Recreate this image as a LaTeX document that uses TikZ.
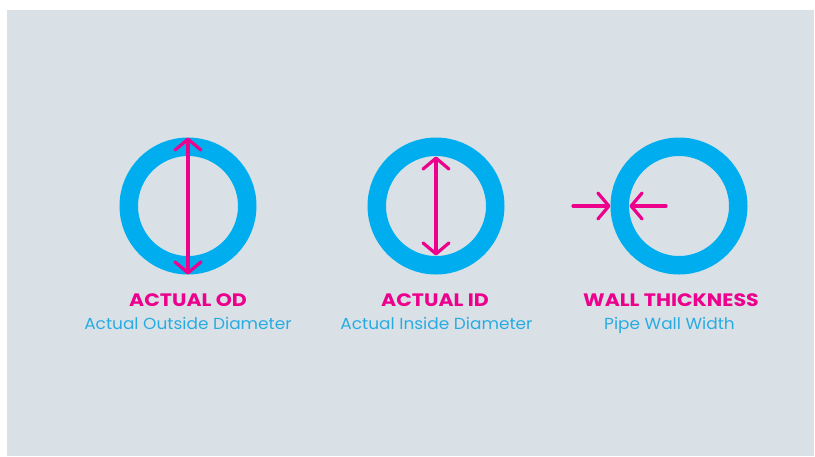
\documentclass[tikz,border=0pt]{standalone}
\usepackage{fontspec}
\setmainfont{Poppins}
\newfontfamily\titlefont[FakeStretch=1.14]{Poppins}
\newfontfamily\subfont[FakeStretch=1.06]{Poppins}
\usetikzlibrary{arrows.meta,calc}
\definecolor{bg}{HTML}{D9E1E7}
\definecolor{pipe}{HTML}{00AEEF}
\definecolor{mag}{HTML}{EC008C}
\definecolor{sub}{HTML}{29ABE2}
\begin{document}
\begin{tikzpicture}[x=1pt,y=-1pt,
  ring/.style={circle,draw=pipe,line width=18.5pt,minimum size=118.5pt,inner sep=0pt},
  dim/.style={draw=mag,line width=3.2pt,line cap=round,line join=round},
  tip/.style={-{Straight Barb[length=11pt,width=26pt,round]}},
  tips/.style={{Straight Barb[length=11pt,width=26pt,round]}-{Straight Barb[length=11pt,width=26pt,round]}},
  title/.style={anchor=base,text=mag,font=\titlefont\fontsize{18}{21}\selectfont\bfseries,inner sep=0pt},
  sub/.style={anchor=base,text=sub,font=\subfont\fontsize{16}{19}\selectfont,inner sep=0pt}]
\useasboundingbox (0,0) rectangle (815,456);
\fill[white] (0,0) rectangle (815,456);
\fill[bg] (7,10) rectangle (814,456);
% pipes
\node[ring] (c1) at (188,206) {};
\node[ring] (c2) at (436,206) {};
\node[ring] (c3) at (679,206) {};
% inner points
\coordinate (c2t) at ($(c2.center)+(0,-49.5)$);
\coordinate (c2b) at ($(c2.center)+(0,49.5)$);
\coordinate (c3o) at (573,206);
\coordinate (c3i) at ($(c3.center)+(-49.5,0)$);
\coordinate (c3s) at ($(c3.center)+(-13,0)$);
% dimension arrows
\draw[dim,tips] (c1.north) -- (c1.south);
\draw[dim,tips] (c2t) -- (c2b);
\draw[dim,tip] (c3o) -- (c3.west);
\draw[dim,tip] (c3s) -- (c3i);
% labels
\node[title] (t1) at (188,306) {ACTUAL OD};
\node[sub] (s1) at (188,329.5) {Actual Outside Diameter};
\node[title] (t2) at (435,306) {ACTUAL ID};
\node[sub] (s2) at (436.5,329.5) {Actual Inside Diameter};
\node[title] (t3) at (671,306) {WALL THICKNESS};
\node[sub] (s3) at (669.5,329.5) {Pipe Wall Width};
\end{tikzpicture}
\end{document}
